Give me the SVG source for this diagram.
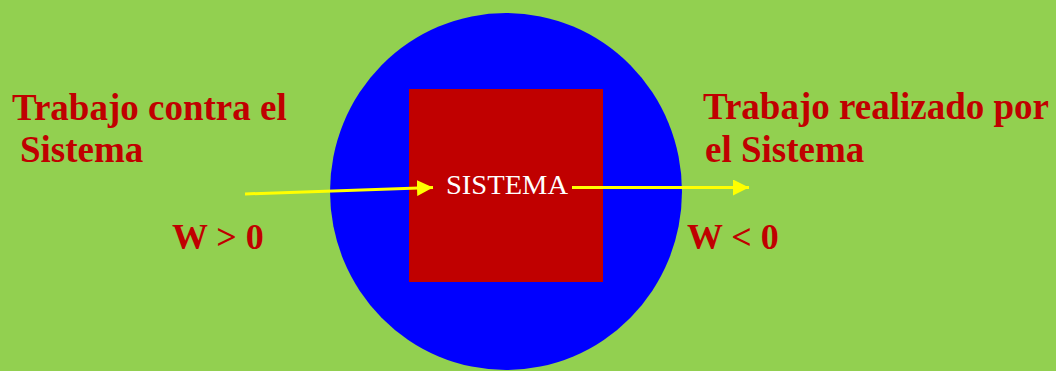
<svg xmlns="http://www.w3.org/2000/svg" width="1056" height="371" viewBox="0 0 1056 371">
<style>
.lbl{font-family:"Liberation Serif","Times New Roman",serif;font-weight:bold;fill:#C00000;font-size:37px}
.w{font-family:"Liberation Serif","Times New Roman",serif;font-weight:bold;fill:#C00000;font-size:36px}
.arr{stroke:#FFFF00;stroke-width:3;fill:none}
</style>
<defs>
<marker id="ah" markerUnits="userSpaceOnUse" markerWidth="18" markerHeight="16" refX="16" refY="8" orient="auto">
<path d="M0,0 L16,8 L0,16 Z" fill="#FFFF00"/>
</marker>
</defs>
<rect width="1056" height="371" fill="#92D050"/>
<g id="circle"><ellipse cx="506" cy="191.5" rx="176" ry="178.5" fill="#0000FF"/></g>
<g id="sistema">
<rect x="409" y="89" width="194" height="193" fill="#C00000"/>
<text x="446" y="194" font-family="Liberation Serif, Times New Roman, serif" font-size="27" fill="#FFFFFF" textLength="122" lengthAdjust="spacingAndGlyphs">SISTEMA</text>
</g>
<g id="connectors">
<line class="arr" x1="245" y1="194" x2="433" y2="187.5" marker-end="url(#ah)"/>
<line class="arr" x1="572" y1="187.5" x2="749" y2="187.5" marker-end="url(#ah)"/>
</g>
<g id="label-left">
<text class="lbl" x="12" y="120">Trabajo contra el</text>
<text class="lbl" x="20" y="162">Sistema</text>
<text class="w" x="172" y="249">W &gt; 0</text>
</g>
<g id="label-right">
<text class="lbl" x="703" y="119">Trabajo realizado por</text>
<text class="lbl" x="705" y="162">el Sistema</text>
<text class="w" x="687" y="249">W &lt; 0</text>
</g>
</svg>
